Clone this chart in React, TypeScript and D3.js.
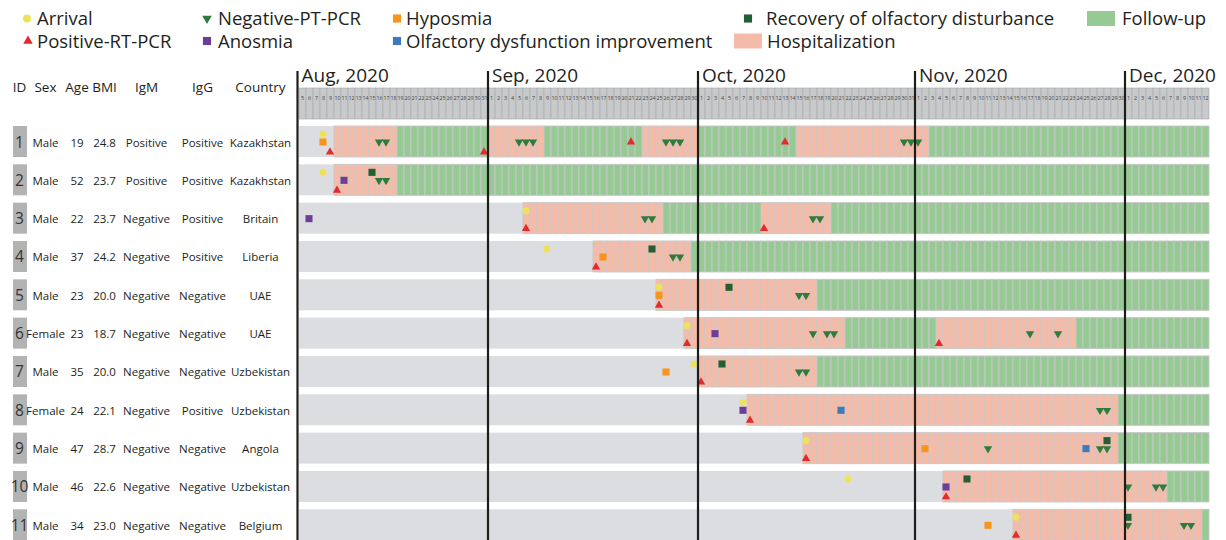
import React from 'react';
import * as d3 from 'd3';

// patient table
const patientIds = ["1", "2", "3", "4", "5", "6", "7", "8", "9", "10", "11"];
const sexes = ["Male", "Male", "Male", "Male", "Male", "Female", "Male", "Female", "Male", "Male", "Male"];
const ages = ["19", "52", "22", "37", "23", "23", "35", "24", "47", "46", "34"];
const bmis = ["24.8", "23.7", "23.7", "24.2", "20.0", "18.7", "20.0", "22.1", "28.7", "22.6", "23.0"];
const igm = ["Positive", "Positive", "Negative", "Negative", "Negative", "Negative", "Negative", "Negative", "Negative", "Negative", "Negative"];
const igg = ["Positive", "Positive", "Positive", "Positive", "Negative", "Negative", "Negative", "Positive", "Negative", "Negative", "Negative"];
const countries = ["Kazakhstan", "Kazakhstan", "Britain", "Liberia", "UAE", "UAE", "Uzbekistan", "Uzbekistan", "Angola", "Uzbekistan", "Belgium"];

// periods (inclusive, MM-DD in 2020)
const hospitalization: [string, string][][] = [
  [["08-10", "08-18"], ["09-01", "09-08"], ["09-23", "09-30"], ["10-15", "11-02"]],
  [["08-10", "08-18"]],
  [["09-06", "09-25"], ["10-10", "10-19"]],
  [["09-16", "09-29"]],
  [["09-25", "10-17"]],
  [["09-29", "10-21"], ["11-04", "11-23"]],
  [["10-01", "10-17"]],
  [["10-08", "11-29"]],
  [["10-16", "11-29"]],
  [["11-05", "12-06"]],
  [["11-15", "12-11"]],
];
const followUp: [string, string][][] = [
  [["08-19", "08-31"], ["09-09", "09-22"], ["10-01", "10-14"], ["11-03", "12-12"]],
  [["08-19", "12-12"]],
  [["09-26", "10-09"], ["10-20", "12-12"]],
  [["09-30", "12-12"]],
  [["10-18", "12-12"]],
  [["10-22", "11-03"], ["11-24", "12-12"]],
  [["10-18", "12-12"]],
  [["11-30", "12-12"]],
  [["11-30", "12-12"]],
  [["12-07", "12-12"]],
  [["12-12", "12-12"]],
];

// events
const arrivalDates = [["08-08"], ["08-08"], ["09-06"], ["09-09"], ["09-25"], ["09-29"], ["09-30"], ["10-07"], ["10-16"], ["10-22"], ["11-15"]];
const positiveDates = [
  ["08-09", "08-31", "09-21", "10-13"], ["08-10"], ["09-06", "10-10"], ["09-16"], ["09-25"],
  ["09-29", "11-04"], ["10-01"], ["10-08"], ["10-16"], ["11-05"], ["11-15"],
];
const negativeDates = [
  ["08-16", "08-17", "09-05", "09-06", "09-07", "09-26", "09-27", "09-28", "10-30", "10-31", "11-01"],
  ["08-16", "08-17"],
  ["09-23", "09-24", "10-17", "10-18"],
  ["09-27", "09-28"],
  ["10-15", "10-16"],
  ["10-17", "10-19", "10-20", "11-17", "11-21"],
  ["10-15", "10-16"],
  ["11-27", "11-28"],
  ["11-11", "11-27", "11-28"],
  ["12-01", "12-05", "12-06"],
  ["12-01", "12-09", "12-10"],
];
const hyposmiaDates = [["08-08"], [], [], ["09-17"], ["09-25"], [], ["09-26"], [], ["11-02"], [], ["11-11"]];
const anosmiaDates = [[], ["08-11"], ["08-06"], [], [], ["10-03"], [], ["10-07"], [], ["11-05"], []];
const improvementDates = [[], [], [], [], [], [], [], ["10-21"], ["11-25"], [], []];
const recoveryDates = [[], ["08-15"], [], ["09-24"], ["10-05"], [], ["10-04"], [], ["11-28"], ["11-08"], ["12-01"]];

const COLORS = {
  arrival: "#ece35b",
  positive: "#e32a2c",
  negative: "#2f7b3a",
  hyposmia: "#f7941e",
  anosmia: "#6b3f98",
  improvement: "#3b7bbd",
  recovery: "#245f33",
  hosp: "#f5bba9",
  follow: "#96c994",
};

const FONT = "'Open Sans', sans-serif";
const TEXT = "#231f20";

const parse = (s: string) => d3.utcParse("%Y-%m-%d")("2020-" + s) as Date;

const x = d3.scaleUtc().domain([parse("08-05"), parse("12-13")]).range([299, 1209]);
const y = d3
  .scaleBand<string>()
  .domain(patientIds)
  .range([126, 126 + 11 * 38.33 - 7.33])
  .paddingInner(7.33 / 38.33)
  .paddingOuter(0);

const days = d3.utcDay.range(parse("08-05"), parse("12-13"));
const months = d3.utcMonth.range(parse("08-01"), parse("12-31"));
const cellW = (d: Date) => x(d3.utcDay.offset(d, 1)) - x(d);
const cx = (s: string) => x(parse(s)) + cellW(parse(s)) / 2 - 0.5;

const sym = (type: d3.SymbolType, size: number) => d3.symbol().type(type).size(size)() || "";
const circlePath = sym(d3.symbolCircle, 38);
const squarePath = sym(d3.symbolSquare, 50);
const triPath = sym(d3.symbolTriangle, 30);

type Kind = "arrival" | "positive" | "negative" | "hyposmia" | "anosmia" | "improvement" | "recovery";

const Marker = ({ kind, px, py, scale = 1 }: { kind: Kind; px: number; py: number; scale?: number }) => {
  const color = COLORS[kind];
  let d = squarePath;
  let rot = 0;
  if (kind === "arrival") d = circlePath;
  if (kind === "positive") d = triPath;
  if (kind === "negative") { d = triPath; rot = 180; }
  return <path d={d} fill={color} transform={`translate(${px},${py}) rotate(${rot}) scale(${scale})`} />;
};

const columns = [
  { title: "ID", cx: 19.5, values: patientIds },
  { title: "Sex", cx: 45.5, values: sexes },
  { title: "Age", cx: 77, values: ages },
  { title: "BMI", cx: 104.5, values: bmis },
  { title: "IgM", cx: 146.5, values: igm },
  { title: "IgG", cx: 202.5, values: igg },
  { title: "Country", cx: 260.5, values: countries },
];

const legendItems: { kind: Kind | "hosp" | "follow"; label: string; sx: number; tx: number; row: number }[] = [
  { kind: "arrival", label: "Arrival", sx: 27, tx: 37, row: 0 },
  { kind: "positive", label: "Positive-RT-PCR", sx: 28, tx: 37, row: 1 },
  { kind: "negative", label: "Negative-PT-PCR", sx: 207, tx: 218, row: 0 },
  { kind: "anosmia", label: "Anosmia", sx: 207, tx: 218, row: 1 },
  { kind: "hyposmia", label: "Hyposmia", sx: 397, tx: 406, row: 0 },
  { kind: "improvement", label: "Olfactory dysfunction improvement", sx: 397, tx: 406, row: 1 },
  { kind: "recovery", label: "Recovery of olfactory disturbance", sx: 748, tx: 766, row: 0 },
  { kind: "hosp", label: "Hospitalization", sx: 734, tx: 767, row: 1 },
  { kind: "follow", label: "Follow-up", sx: 1087, tx: 1122, row: 0 },
];

const App: React.FC = () => {
  const bh = y.bandwidth();

  const rows = patientIds.map((id, i) => {
    const top = y(id) as number;
    const hospStarts = hospitalization[i].map(r => parse(r[0]).getTime());
    const periodCells = (ranges: [string, string][], fill: string, key: string) =>
      ranges.flatMap((r, j) =>
        d3.utcDay.range(parse(r[0]), d3.utcDay.offset(parse(r[1]), 1)).map((d, k) => (
          <rect key={`${key}-${j}-${k}`} x={x(d)} y={top} width={cellW(d)} height={bh}
            fill={fill} stroke="#c9c9c9" strokeWidth={0.9} />
        ))
      );
    const markers: React.ReactNode[] = [];
    const add = (dates: string[], kind: Kind, off: (s: string) => number) =>
      dates.forEach((s, k) => markers.push(
        <Marker key={`${kind}-${k}`} kind={kind} px={cx(s)} py={top + off(s)} />
      ));
    add(arrivalDates[i], "arrival", () => 8);
    add(recoveryDates[i], "recovery", () => 8);
    add(hyposmiaDates[i], "hyposmia", () => 16);
    add(anosmiaDates[i], "anosmia", () => 16);
    add(improvementDates[i], "improvement", () => 16);
    add(negativeDates[i], "negative", () => 16);
    add(positiveDates[i], "positive", s => {
      const t = parse(s).getTime();
      const admits = hospStarts.some(h => h - t >= 0 && h - t <= 86400000);
      return admits ? 26 : 16;
    });
    return (
      <g key={id}>
        <rect x={x.range()[0]} y={top} width={x.range()[1] - x.range()[0]} height={bh} fill="#dcdde0" />
        {periodCells(hospitalization[i], COLORS.hosp, "h")}
        {periodCells(followUp[i], COLORS.follow, "f")}
        {markers}
        <rect x={13} y={top} width={14} height={bh} fill="#b3b3b3" />
        {columns.map((c, ci) => (
          <text key={c.title} x={c.cx} y={top + (ci === 0 ? 21.5 : 20.5)} textAnchor="middle"
            fontSize={ci === 0 ? 15.5 : 11.5} fill={ci === 0 ? "#333" : TEXT}>
            {c.values[i]}
          </text>
        ))}
      </g>
    );
  });

  return (
    <svg width={1226} height={540} style={{ position: "fixed", left: 0, top: 0, background: "#fff" }} fontFamily={FONT}>
      {/* legend */}
      {legendItems.map(it => {
        const cyL = it.row === 0 ? 18.5 : 41;
        return (
          <g key={it.label}>
            {it.kind === "hosp" || it.kind === "follow" ? (
              <rect x={it.sx} y={cyL - 7.5} width={28} height={15} fill={COLORS[it.kind]} />
            ) : (
              <Marker kind={it.kind} px={it.sx} py={cyL} scale={1.15} />
            )}
            <text x={it.tx} y={cyL + 6.5} fontSize={18.5} fill={TEXT}>{it.label}</text>
          </g>
        );
      })}

      {/* table header */}
      {columns.map(c => (
        <text key={c.title} x={c.cx} y={91.5} textAnchor="middle" fontSize={13.5} fill={TEXT}>{c.title}</text>
      ))}

      {/* day header */}
      {days.map(d => (
        <g key={d.getTime()}>
          <rect x={x(d)} y={88} width={cellW(d)} height={31} fill="#c8c9cb" stroke="#a7a8aa" strokeWidth={0.6} />
          <text x={x(d) + cellW(d) / 2} y={99.5} textAnchor="middle" fontSize={5.4} fill="#444">
            {d.getUTCDate()}
          </text>
        </g>
      ))}

      {rows}

      {/* month lines and labels */}
      {months.map((m, i) => {
        const lx = i === 0 ? x.range()[0] - 1.5 : x(m);
        return (
          <g key={m.getTime()}>
            <line x1={lx} x2={lx} y1={71} y2={540} stroke="#1d1d1b" strokeWidth={2.2} />
            <text x={lx + 4} y={81.5} fontSize={19} fill={TEXT}>{d3.utcFormat("%b, %Y")(m)}</text>
          </g>
        );
      })}
    </svg>
  );
};

export default App;
